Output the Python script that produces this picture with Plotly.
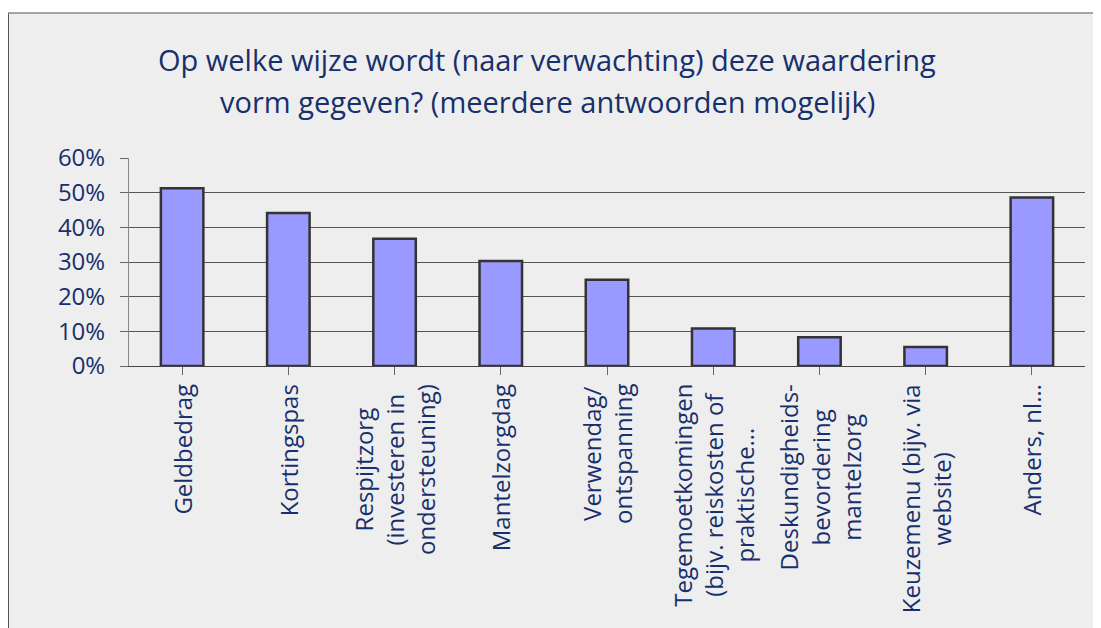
import plotly.graph_objects as go

categories = [
    "Geldbedrag",
    "Kortingspas",
    "Respijtzorg<br>(investeren in<br>ondersteuning)",
    "Mantelzorgdag",
    "Verwendag/<br>ontspanning",
    "Tegemoetkomingen<br>(bijv. reiskosten of<br>praktische…",
    "Deskundigheids-<br>bevordering<br>mantelzorg",
    "Keuzemenu (bijv. via<br>website)",
    "Anders, nl…",
]
values = [51.3, 44.1, 36.7, 30.3, 24.9, 10.8, 8.3, 5.5, 48.6]
y_ticks = [0, 10, 20, 30, 40, 50, 60]
y_tick_labels = ["0%", "10%", "20%", "30%", "40%", "50%", "60%"]
title_lines = [
    "Op welke wijze wordt (naar verwachting) deze waardering",
    "vorm gegeven? (meerdere antwoorden mogelijk)",
]

# page is shown with an 8px body margin, so figure pixels = page pixels - 8
OFF = 8
W, H = 1101, 628
ML, MR, MT = 129 - OFF, 24, 158 - OFF
MB = H - (366 - OFF)
PW = W - ML - MR
PH = H - MT - MB

def px_x(p):
    return (p - OFF - ML) / PW

def px_y(p):
    return (H - MB - (p - OFF)) / PH

NAVY = "#17306c"
FONT = "Open Sans"

x_idx = list(range(len(categories)))

fig = go.Figure(
    go.Bar(
        x=x_idx,
        y=values,
        width=0.4,
        marker=dict(color="#9999ff", line=dict(color="#333333", width=2.5)),
        hoverinfo="skip",
    )
)

shapes = [
    dict(type="rect", xref="paper", yref="paper",
         x0=px_x(8), x1=px_x(W + 40), y0=px_y(H + 40), y1=px_y(13),
         fillcolor="#eeeeee", line=dict(width=0), layer="below"),
    dict(type="line", xref="paper", yref="paper",
         x0=px_x(8), x1=px_x(8), y0=px_y(H + 40), y1=px_y(13),
         line=dict(color="#555555", width=2)),
    dict(type="line", xref="paper", yref="paper",
         x0=px_x(8), x1=px_x(W + 40), y0=px_y(13), y1=px_y(13),
         line=dict(color="#888888", width=1.5)),
]

annotations = []
for i, lab in enumerate(categories):
    annotations.append(dict(
        x=i, xref="x", y=0, yref="paper", yanchor="top", xanchor="center",
        yshift=-16, text=lab, textangle=-90, align="center", showarrow=False,
        font=dict(family=FONT, size=24, color=NAVY),
    ))

title_y = [60, 101]
for t, yy in zip(title_lines, title_y):
    annotations.append(dict(
        x=px_x(547), xref="paper", y=px_y(yy), yref="paper",
        xanchor="center", yanchor="middle", text=t, showarrow=False,
        font=dict(family=FONT, size=29, color=NAVY),
    ))

fig.update_layout(
    width=W, height=H,
    margin=dict(l=ML, r=MR, t=MT, b=MB, pad=0),
    paper_bgcolor="white",
    plot_bgcolor="rgba(0,0,0,0)",
    showlegend=False,
    shapes=shapes,
    annotations=annotations,
    xaxis=dict(
        range=[-0.5, len(categories) - 0.5],
        tickvals=x_idx, ticktext=[""] * len(categories),
        tickson="boundaries", ticks="outside", ticklen=8, tickcolor="#666666",
        showgrid=False, showline=True, linecolor="#444444", linewidth=1,
        zeroline=False, fixedrange=True,
    ),
    yaxis=dict(
        range=[0, 60], tickvals=y_ticks, ticktext=y_tick_labels,
        ticks="outside", ticklen=8, tickcolor="#666666",
        showgrid=True, gridcolor="#555555", gridwidth=1,
        showline=True, linecolor="#888888", linewidth=1,
        zeroline=False, ticklabelstandoff=10,
        tickfont=dict(family=FONT, size=24, color=NAVY),
        fixedrange=True,
    ),
)

fig.write_html("out.html")
